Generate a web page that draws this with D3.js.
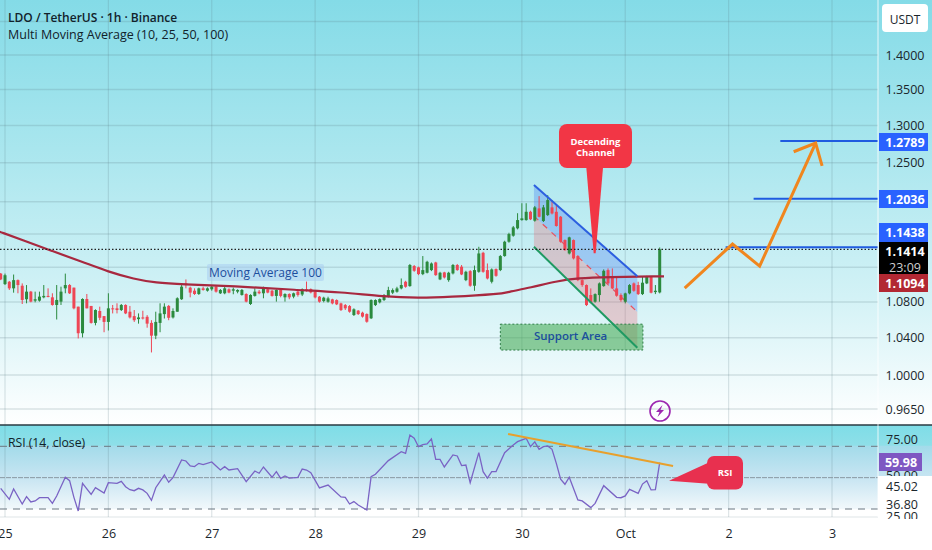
<!DOCTYPE html>
<html>
<head>
<meta charset="utf-8">
<title>LDO / TetherUS</title>
<script src="https://cdn.jsdelivr.net/npm/d3@7"></script>
<style>
    html, body { margin: 0; padding: 0; background: #fff; }
    svg { display: block; }
    text { font-family: "Open Sans", sans-serif; }
    .axis path, .axis line { display: none; }
</style>
</head>
<body>
<div id="chart"></div>
<script>
// Candles, one row per hour. Candle 0 is the midnight that starts the 25th
const firstCandle = -1;
const candleOpen = [
    1.1126, 1.1004, 1.1031, 1.0955, 1.1050, 1.0985, 1.0830, 1.0917, 1.0814, 1.0814, 1.0852,
    1.0868, 1.0852, 1.0765, 1.0803, 1.0955, 1.0993, 1.0963, 1.0746, 1.0450, 1.0833, 1.0754,
    1.0564, 1.0697, 1.0640, 1.0575, 1.0727, 1.0727, 1.0708, 1.0765, 1.0689, 1.0640, 1.0606,
    1.0625, 1.0632, 1.0564, 1.0423, 1.0564, 1.0662, 1.0754, 1.0625, 1.0689, 1.0830, 1.1012,
    1.0963, 1.0928, 1.0890, 1.0955, 1.0928, 1.0944, 1.0974, 1.0898, 1.0898, 1.0944, 1.0928,
    1.0917, 1.0879, 1.0890, 1.0776, 1.0868, 1.0917, 1.0898, 1.0944, 1.0928, 1.0868, 1.0936,
    1.0852, 1.0890, 1.0860, 1.0917, 1.0884, 1.0943, 1.0946, 1.0916, 1.0859, 1.0810, 1.0802,
    1.0829, 1.0821, 1.0783, 1.0764, 1.0753, 1.0652, 1.0701, 1.0678, 1.0663, 1.0615, 1.0764,
    1.0795, 1.0821, 1.0867, 1.0905, 1.0916, 1.0954, 1.1031, 1.0981, 1.1215, 1.1199, 1.1120,
    1.1136, 1.1167, 1.1257, 1.1058, 1.1140, 1.1050, 1.1128, 1.1227, 1.1207, 1.1050, 1.1155,
    1.0985, 1.1147, 1.1372, 1.1167, 1.1031, 1.1179, 1.1167, 1.1333, 1.1505, 1.1578, 1.1668,
    1.1770, 1.1770, 1.1873, 1.1762, 1.1915, 1.1758, 1.1832, 1.1928, 1.1873, 1.1811, 1.1525,
    1.1364, 1.1525, 1.1333, 1.1050, 1.0993, 1.0878, 1.0802, 1.0878, 1.0981, 1.1167, 1.1096,
    1.0954, 1.0878, 1.0802, 1.0897, 1.1012, 1.0993, 1.0889, 1.1012, 1.1089, 1.0912, 1.0908
];
const candleClose = [
    1.1058, 1.1107, 1.0955, 1.1050, 1.0993, 1.0822, 1.0917, 1.0803, 1.0830, 1.0860, 1.0868,
    1.0856, 1.0765, 1.0822, 1.0917, 1.0993, 1.0898, 1.0727, 1.0450, 1.0833, 1.0727, 1.0564,
    1.0708, 1.0621, 1.0575, 1.0727, 1.0716, 1.0708, 1.0765, 1.0670, 1.0625, 1.0594, 1.0625,
    1.0613, 1.0556, 1.0423, 1.0575, 1.0670, 1.0746, 1.0621, 1.0697, 1.0841, 1.0974, 1.0993,
    1.0906, 1.0890, 1.0955, 1.0936, 1.0955, 1.0974, 1.0917, 1.0936, 1.0955, 1.0906, 1.0944,
    1.0936, 1.0936, 1.0803, 1.0879, 1.0917, 1.0898, 1.0955, 1.0906, 1.0868, 1.0936, 1.0868,
    1.0890, 1.0852, 1.0898, 1.0879, 1.0946, 1.0928, 1.0908, 1.0851, 1.0802, 1.0848, 1.0840,
    1.0783, 1.0772, 1.0708, 1.0727, 1.0689, 1.0716, 1.0663, 1.0634, 1.0577, 1.0821, 1.0821,
    1.0832, 1.0877, 1.0935, 1.0935, 1.0954, 1.0993, 1.0973, 1.1227, 1.1159, 1.1120, 1.1167,
    1.1265, 1.1245, 1.1108, 1.1136, 1.1081, 1.1136, 1.1227, 1.1167, 1.1116, 1.1147, 1.0985,
    1.1167, 1.1364, 1.1147, 1.1069, 1.1175, 1.1100, 1.1333, 1.1505, 1.1598, 1.1680, 1.1770,
    1.1791, 1.1873, 1.1779, 1.1928, 1.1811, 1.1928, 1.2020, 1.1852, 1.1697, 1.1505, 1.1404,
    1.1558, 1.1305, 1.1050, 1.0993, 1.0764, 1.0791, 1.0889, 1.1012, 1.1159, 1.1012, 1.0954,
    1.0870, 1.0821, 1.0897, 1.0993, 1.0927, 1.0889, 1.1020, 1.1089, 1.0905, 1.0927, 1.1414
];
const candleHigh = [
    1.1133, 1.1126, 1.1040, 1.1115, 1.1058, 1.1012, 1.0993, 1.0925, 1.0917, 1.0917, 1.0993,
    1.0955, 1.0898, 1.0993, 1.0974, 1.1126, 1.1004, 1.0963, 1.0746, 1.0841, 1.0890, 1.0754,
    1.0716, 1.0746, 1.0640, 1.0898, 1.0765, 1.0784, 1.0776, 1.0773, 1.0754, 1.0708, 1.0670,
    1.0700, 1.0651, 1.0594, 1.0689, 1.0784, 1.0784, 1.0765, 1.0727, 1.0852, 1.0993, 1.1058,
    1.0974, 1.0955, 1.0963, 1.0974, 1.0966, 1.0993, 1.0985, 1.0947, 1.0993, 1.0955, 1.0963,
    1.0944, 1.0947, 1.0898, 1.0887, 1.0955, 1.0936, 1.0974, 1.0955, 1.0936, 1.0944, 1.0944,
    1.0898, 1.0898, 1.0906, 1.0936, 1.0954, 1.1033, 1.0954, 1.0927, 1.0867, 1.0859, 1.0859,
    1.0836, 1.0829, 1.0791, 1.0776, 1.0764, 1.0727, 1.0708, 1.0689, 1.0671, 1.0829, 1.0829,
    1.0840, 1.0889, 1.0973, 1.0954, 1.0973, 1.1069, 1.1042, 1.1239, 1.1227, 1.1207, 1.1333,
    1.1277, 1.1257, 1.1265, 1.1147, 1.1147, 1.1147, 1.1239, 1.1239, 1.1227, 1.1159, 1.1167,
    1.1220, 1.1444, 1.1384, 1.1245, 1.1187, 1.1187, 1.1345, 1.1517, 1.1614, 1.1697, 1.1855,
    1.1980, 1.1980, 1.1886, 1.1945, 1.2070, 1.1958, 1.2083, 1.2020, 1.1958, 1.1820, 1.1533,
    1.1566, 1.1533, 1.1344, 1.1058, 1.1000, 1.0954, 1.0897, 1.1023, 1.1175, 1.1187, 1.1187,
    1.1089, 1.0897, 1.0905, 1.1004, 1.1023, 1.1031, 1.1089, 1.1100, 1.1096, 1.0993, 1.1436
];
const candleLow = [
    1.1050, 1.0993, 1.0936, 1.0905, 1.0898, 1.0776, 1.0784, 1.0795, 1.0795, 1.0803, 1.0841,
    1.0852, 1.0757, 1.0602, 1.0765, 1.0898, 1.0890, 1.0716, 1.0393, 1.0404, 1.0727, 1.0556,
    1.0537, 1.0594, 1.0461, 1.0480, 1.0670, 1.0670, 1.0697, 1.0662, 1.0613, 1.0575, 1.0556,
    1.0602, 1.0511, 1.0241, 1.0385, 1.0461, 1.0613, 1.0594, 1.0613, 1.0689, 1.0822, 1.0955,
    1.0852, 1.0879, 1.0879, 1.0928, 1.0917, 1.0928, 1.0906, 1.0890, 1.0887, 1.0898, 1.0887,
    1.0898, 1.0871, 1.0795, 1.0765, 1.0860, 1.0887, 1.0841, 1.0898, 1.0860, 1.0803, 1.0852,
    1.0803, 1.0830, 1.0841, 1.0860, 1.0866, 1.0917, 1.0897, 1.0840, 1.0791, 1.0795, 1.0791,
    1.0772, 1.0764, 1.0697, 1.0708, 1.0678, 1.0641, 1.0652, 1.0623, 1.0566, 1.0607, 1.0753,
    1.0783, 1.0810, 1.0851, 1.0889, 1.0905, 1.0943, 1.0962, 1.0973, 1.1147, 1.1108, 1.1108,
    1.1128, 1.1155, 1.1100, 1.1050, 1.1069, 1.1031, 1.1116, 1.1159, 1.1108, 1.1038, 1.0973,
    1.0927, 1.1136, 1.1136, 1.1058, 1.1012, 1.1089, 1.1155, 1.1325, 1.1493, 1.1566, 1.1655,
    1.1762, 1.1762, 1.1770, 1.1750, 1.1803, 1.1746, 1.1820, 1.1840, 1.1689, 1.1493, 1.1396,
    1.1352, 1.1293, 1.1038, 1.0973, 1.0753, 1.0783, 1.0791, 1.0802, 1.0973, 1.1004, 1.0946,
    1.0859, 1.0802, 1.0783, 1.0886, 1.0916, 1.0878, 1.0878, 1.1004, 1.0897, 1.0889, 1.0897
];

// Moving Average 100 vertices
const maIndex = [-2, -1, 4, 11, 18, 24, 30, 35, 41, 53, 68, 78, 88, 96, 103, 115, 117, 122, 128, 133, 140, 152, 153];
const maValue = [1.1640, 1.1623, 1.1525, 1.1392, 1.1264, 1.1147, 1.1062, 1.1019, 1.1001, 1.0981, 1.0935, 1.0912,
    1.0858, 1.0844, 1.0855, 1.0889, 1.0916, 1.0962, 1.1038, 1.1073, 1.1085, 1.1094, 1.1094];

// RSI vertices
const rsiIndex = [-1, 1, 2, 4, 5, 6, 7, 8, 10, 11, 12, 14, 15, 16, 17, 18, 20, 21, 23, 24, 26, 27, 28, 29, 30, 31, 32, 33, 34, 35,
    37, 38, 39, 41, 42, 43, 44, 45, 46, 48, 49, 50, 51, 52, 54, 56, 58, 59, 60, 62, 63, 64, 65, 66, 68, 69, 70, 71, 73, 75,
    78, 79, 80, 81, 82, 84, 85, 86, 89, 92, 93, 94, 95, 96, 97, 98, 99, 100, 101, 102, 104, 105, 106, 107, 108, 110, 111, 112, 113, 114,
    116, 118, 119, 121, 122, 123, 124, 125, 126, 127, 128, 129, 130, 131, 133, 134, 136, 137, 139, 142, 143, 144, 145, 147, 148, 149, 150, 151, 152];
const rsiValue = [41.5, 32.7, 41.0, 29.0, 34.8, 30.6, 31.4, 34.0, 34.0, 29.5, 35.4, 50.3, 47.6, 34.3, 23.4, 45.5, 36.7, 42.0, 37.8, 46.0,
    45.5, 47.1, 42.8, 40.4, 39.6, 41.5, 40.2, 37.5, 31.9, 42.0, 52.1, 46.3, 50.0, 64.1, 63.3, 59.3, 58.8, 61.4, 60.4, 62.5,
    59.3, 56.1, 58.8, 56.1, 57.2, 46.8, 55.3, 53.5, 58.5, 50.3, 54.8, 49.5, 51.3, 49.7, 50.3, 56.9, 56.1, 54.0, 41.8, 44.1,
    34.6, 34.3, 29.0, 30.9, 28.2, 24.2, 50.8, 52.7, 63.6, 70.7, 69.4, 84.0, 81.4, 74.7, 76.3, 76.9, 80.9, 64.6, 64.6, 58.5,
    68.1, 67.3, 59.6, 60.1, 46.0, 69.9, 54.8, 49.7, 54.8, 54.8, 69.9, 76.1, 78.7, 81.4, 74.7, 78.5, 72.6, 74.7, 75.3, 72.6,
    61.4, 48.7, 44.7, 50.3, 32.2, 31.4, 26.1, 29.5, 43.6, 34.3, 34.0, 35.4, 40.7, 37.5, 44.9, 47.6, 40.2, 40.4, 62.0];

// Axis ticks and labels
const dayTicks = [0, 24, 48, 72, 96, 120, 144, 168, 192];
const dayLabels = ['25', '26', '27', '28', '29', '30', 'Oct', '2', '3'];
const priceGrid = [1.45, 1.4, 1.35, 1.3, 1.25, 1.2, 1.16, 1.12, 1.08, 1.04, 1.0, 0.965];
const priceLabels = [1.4, 1.35, 1.3, 1.25, 1.08, 1.04, 1.0, 0.965];
const rsiGrid = [75, 50, 25];
const rsiUpperLabels = [75, 50];
const rsiLowerLabels = [45.02, 36.8, 25];

// Drawings on the chart, in candle index and price
const channelIndex = [122.8, 146.8];
const channelUpper = [1.2211, 1.1096];
const channelMiddle = [1.1820, 1.0687];
const channelLower = [1.1444, 1.0291];
const supportIndex = [115, 148.1];
const supportPrice = [1.0550, 1.0267];
const targetPrice = [1.1438, 1.2036, 1.2789];
const targetStart = [167.3, 173.8, 180];
const arrowIndex = [157.8, 168.9, 175.2, 188.2];
const arrowPrice = [1.0958, 1.1477, 1.1214, 1.2762];
const arrowHeadIndex = [183.1, 188.2, 189.7];
const arrowHeadPrice = [1.2646, 1.2762, 1.2461];
const rsiTrendIndex = [116.8, 155.1];
const rsiTrendValue = [84.8, 59.3];
const lastPrice = 1.1414;

// Layout
const width = 932, height = 550;
const axisX = 878;
const mainBottom = 425, rsiBottom = 517;

const x = d3.scaleLinear().domain([0, 192]).range([5, 832]);
const y = d3.scaleLog().domain([0.965, 1.4]).range([409, 55]);
const yRsi = d3.scaleLinear().domain([25, 75]).range([509, 446.3]);
// the RSI scale labels sit off their levels in the picture
const yRsiLabel = d3.scaleLinear().domain([25, 36.8, 45.02, 50, 75]).range([516, 504, 486, 475, 439]);

const svg = d3.select('#chart').append('svg')
    .attr('width', width)
    .attr('height', height);

const defs = svg.append('defs');

function addGradient(id, stops) {
    const grad = defs.append('linearGradient')
        .attr('id', id)
        .attr('x1', 0).attr('y1', 0).attr('x2', 0).attr('y2', 1);
    stops.forEach(s => grad.append('stop').attr('offset', s[0]).attr('stop-color', s[1]));
}

addGradient('main-bg', [[0, '#84dbe7'], [0.35, '#a9e6ee'], [0.7, '#d3f2f6'], [1, '#ffffff']]);
addGradient('rsi-bg', [[0, '#7edde7'], [0.22, '#8edfe8'], [0.23, '#a3dbea'], [0.58, '#c8e5f2'], [0.91, '#f1f8fb'], [0.92, '#ffffff'], [1, '#ffffff']]);

defs.append('clipPath').attr('id', 'rsi-axis-clip')
    .append('rect').attr('x', axisX).attr('y', 426).attr('width', 54).attr('height', 93);

// Backgrounds
svg.append('rect').attr('width', width).attr('height', height).attr('fill', '#fff');
svg.append('rect').attr('width', width).attr('height', mainBottom).attr('fill', 'url(#main-bg)');
svg.append('rect').attr('y', mainBottom).attr('width', width).attr('height', rsiBottom - mainBottom).attr('fill', 'url(#rsi-bg)');

// Grid
const grid = svg.append('g').attr('fill', 'none');
grid.selectAll('.h').data(priceGrid).join('line')
    .attr('x1', 0).attr('x2', axisX)
    .attr('y1', d => y(d)).attr('y2', d => y(d))
    .attr('stroke', 'rgba(90,120,130,0.2)')
    .attr('stroke-width', 1.5);
grid.selectAll('.v').data(dayTicks).join('line')
    .attr('x1', d => x(d)).attr('x2', d => x(d))
    .attr('y1', 0).attr('y2', rsiBottom)
    .attr('stroke', 'rgba(90,120,130,0.2)')
    .attr('stroke-width', 1.2);
grid.append('line')
    .attr('x1', 0).attr('x2', axisX)
    .attr('y1', rsiBottom).attr('y2', rsiBottom)
    .attr('stroke', 'rgba(90,120,130,0.2)');

// Channel fill goes under the candles
const channelPoly = (a, b) => [
    [x(channelIndex[0]), y(a[0])], [x(channelIndex[1]), y(a[1])],
    [x(channelIndex[1]), y(b[1])], [x(channelIndex[0]), y(b[0])]
].join(' ');
svg.append('polygon').attr('points', channelPoly(channelUpper, channelMiddle)).attr('fill', 'rgba(66,120,240,0.32)');
svg.append('polygon').attr('points', channelPoly(channelMiddle, channelLower)).attr('fill', 'rgba(235,90,100,0.27)');
svg.append('line')
    .attr('x1', x(channelIndex[0])).attr('y1', y(channelMiddle[0]))
    .attr('x2', x(channelIndex[1])).attr('y2', y(channelMiddle[1]))
    .attr('stroke', '#e8505f').attr('stroke-width', 1.2).attr('stroke-dasharray', '6,6');

// Support area
const support = svg.append('g');
support.append('rect')
    .attr('x', x(supportIndex[0])).attr('y', y(supportPrice[0]))
    .attr('width', x(supportIndex[1]) - x(supportIndex[0]))
    .attr('height', y(supportPrice[1]) - y(supportPrice[0]))
    .attr('fill', 'rgba(60,165,75,0.55)')
    .attr('stroke', '#2d7d46').attr('stroke-width', 1).attr('stroke-dasharray', '2,2');
support.append('text')
    .attr('x', (x(supportIndex[0]) + x(supportIndex[1])) / 2 - 1)
    .attr('y', (y(supportPrice[0]) + y(supportPrice[1])) / 2 + 3)
    .attr('text-anchor', 'middle')
    .attr('font-size', 11.5).attr('font-weight', 600)
    .attr('fill', '#1c4f9c')
    .text('Support Area');

// Candles
const candles = candleOpen.map((o, i) => ({
    i: firstCandle + i, o, c: candleClose[i], h: candleHigh[i], l: candleLow[i]
}));
const candleColor = d => (d.c >= d.o ? '#2b8a3e' : '#ee4655');
const candleG = svg.append('g');
candleG.selectAll('line').data(candles).join('line')
    .attr('x1', d => x(d.i)).attr('x2', d => x(d.i))
    .attr('y1', d => y(d.h)).attr('y2', d => y(d.l))
    .attr('stroke', candleColor).attr('stroke-width', 1);
candleG.selectAll('rect').data(candles).join('rect')
    .attr('x', d => x(d.i) - 1.5)
    .attr('width', 3)
    .attr('y', d => y(Math.max(d.o, d.c)))
    .attr('height', d => Math.max(1, Math.abs(y(d.o) - y(d.c))))
    .attr('fill', candleColor);

// Moving average
const maLine = d3.line().x(d => x(d[0])).y(d => y(d[1])).curve(d3.curveBasis);
svg.append('path')
    .attr('d', maLine(maIndex.map((d, i) => [d, maValue[i]])))
    .attr('fill', 'none').attr('stroke', '#a8283f').attr('stroke-width', 2.2);

// MA label
svg.append('rect')
    .attr('x', 207).attr('y', 264).attr('width', 117).attr('height', 17).attr('rx', 2)
    .attr('fill', 'rgba(170,205,240,0.55)');
svg.append('text')
    .attr('x', 265.5).attr('y', 276.5)
    .attr('text-anchor', 'middle')
    .attr('font-size', 12)
    .attr('fill', '#1d4e9e')
    .text('Moving Average 100');

// Channel borders
svg.append('line')
    .attr('x1', x(channelIndex[0])).attr('y1', y(channelUpper[0]))
    .attr('x2', x(channelIndex[1])).attr('y2', y(channelUpper[1]))
    .attr('stroke', '#2c5fe0').attr('stroke-width', 2);
svg.append('line')
    .attr('x1', x(channelIndex[0])).attr('y1', y(channelLower[0]))
    .attr('x2', x(channelIndex[1])).attr('y2', y(channelLower[1]))
    .attr('stroke', '#1f9a62').attr('stroke-width', 2);

// Last price dotted line
svg.append('line')
    .attr('x1', 0).attr('x2', axisX)
    .attr('y1', y(lastPrice)).attr('y2', y(lastPrice))
    .attr('stroke', '#222').attr('stroke-width', 1.2).attr('stroke-dasharray', '1.5,2');

// Target levels
svg.append('g').selectAll('line').data(targetPrice).join('line')
    .attr('x1', (d, i) => x(targetStart[i])).attr('x2', axisX)
    .attr('y1', d => y(d)).attr('y2', d => y(d))
    .attr('stroke', '#1f5be0').attr('stroke-width', 2);

// Projected path
const drawLine = d3.line().x(d => x(d[0])).y(d => y(d[1]));
svg.append('path')
    .attr('d', drawLine(arrowIndex.map((d, i) => [d, arrowPrice[i]])))
    .attr('fill', 'none').attr('stroke', '#f0861e').attr('stroke-width', 3);
svg.append('path')
    .attr('d', drawLine(arrowHeadIndex.map((d, i) => [d, arrowHeadPrice[i]])))
    .attr('fill', 'none').attr('stroke', '#f0861e').attr('stroke-width', 3);

// Callout for the channel
const tipX = x(136.9), tipY = y(1.1368);
svg.append('path')
    .attr('d', `M${tipX - 9},160 L${tipX - 1},${tipY} L${tipX + 1},${tipY} L${tipX + 9},160 Z`)
    .attr('fill', '#f23645');
svg.append('rect')
    .attr('x', 559).attr('y', 124).attr('width', 73).attr('height', 44).attr('rx', 8)
    .attr('fill', '#f23645');
svg.append('text').attr('x', 595.5).attr('y', 145).attr('text-anchor', 'middle')
    .attr('font-size', 9.5).attr('font-weight', 700).attr('fill', '#fff').text('Decending');
svg.append('text').attr('x', 595.5).attr('y', 155.5).attr('text-anchor', 'middle')
    .attr('font-size', 9.5).attr('font-weight', 700).attr('fill', '#fff').text('Channel');

// Lightning badge
const badge = svg.append('g').attr('transform', 'translate(660,411)');
badge.append('circle').attr('r', 10).attr('fill', 'none').attr('stroke', '#9c27b0').attr('stroke-width', 1.6);
badge.append('path').attr('d', 'M2.5,-6 L-4,1 L-0.5,1 L-2.5,6 L4,-1 L0.5,-1 Z').attr('fill', '#9c27b0');

// Pane separator
svg.append('line')
    .attr('x1', 0).attr('x2', width)
    .attr('y1', mainBottom).attr('y2', mainBottom)
    .attr('stroke', '#2a3a42').attr('stroke-width', 1.5);

// RSI levels
svg.append('g').selectAll('line').data(rsiGrid).join('line')
    .attr('x1', 0).attr('x2', axisX)
    .attr('y1', d => yRsi(d)).attr('y2', d => yRsi(d))
    .attr('stroke', d => (d === 50 ? '#8a98a2' : '#6b7780')).attr('stroke-width', 1)
    .attr('stroke-dasharray', d => (d === 50 ? '5,1' : '7,6'));

const rsiLine = d3.line().x(d => x(d[0])).y(d => yRsi(d[1]));
svg.append('path')
    .attr('d', rsiLine(rsiIndex.map((d, i) => [d, rsiValue[i]])))
    .attr('fill', 'none').attr('stroke', '#7a63c4').attr('stroke-width', 1.3);

svg.append('line')
    .attr('x1', x(rsiTrendIndex[0])).attr('y1', yRsi(rsiTrendValue[0]))
    .attr('x2', x(rsiTrendIndex[1])).attr('y2', yRsi(rsiTrendValue[1]))
    .attr('stroke', '#e8a02c').attr('stroke-width', 2);

// RSI callout
svg.append('path').attr('d', 'M669,480.7 L712,461 L712,484 Z').attr('fill', '#e8304f');
svg.append('rect')
    .attr('x', 707).attr('y', 456).attr('width', 36).attr('height', 33.5).attr('rx', 7)
    .attr('fill', '#e8304f');
svg.append('text').attr('x', 725).attr('y', 476).attr('text-anchor', 'middle')
    .attr('font-size', 9.5).attr('font-weight', 700).attr('fill', '#fff').text('RSI');

// Legends
const legend = svg.append('g').attr('fill', '#11222b');
legend.append('text').attr('x', 8).attr('y', 22).attr('font-size', 12).attr('font-weight', 600).text('LDO / TetherUS · 1h · Binance');
legend.append('text').attr('x', 8).attr('y', 39).attr('font-size', 12.5).text('Multi Moving Average (10, 25, 50, 100)');
legend.append('text').attr('x', 8).attr('y', 447).attr('font-size', 12.2).text('RSI (14, close)');

// Right scale
svg.append('line')
    .attr('x1', axisX).attr('x2', axisX).attr('y1', 0).attr('y2', 517)
    .attr('stroke', 'rgba(255,255,255,0.8)').attr('stroke-width', 1);

const styleTicks = g => g.selectAll('text')
    .attr('text-anchor', 'middle')
    .attr('font-family', 'Roboto')
    .attr('font-size', 12.5)
    .attr('fill', '#1b262c');

const priceAxis = d3.axisRight(y)
    .tickValues(priceLabels)
    .tickSize(0)
    .tickPadding(0)
    .tickFormat(d3.format('.4f'));
svg.append('g').attr('class', 'axis price-axis')
    .attr('transform', 'translate(905,0)')
    .call(priceAxis)
    .call(styleTicks);

const rsiAxis = values => d3.axisRight(yRsiLabel)
    .tickValues(values)
    .tickSize(0)
    .tickPadding(0)
    .tickFormat(d3.format('.2f'));

// 50.00 is mostly covered by the white patch, the lower labels sit on top of it
const rsiClip = svg.append('g').attr('clip-path', 'url(#rsi-axis-clip)');
rsiClip.append('g').attr('class', 'axis rsi-axis')
    .attr('transform', 'translate(902,0)')
    .call(rsiAxis(rsiUpperLabels))
    .call(styleTicks);
rsiClip.append('rect').attr('x', axisX).attr('y', 476).attr('width', 54).attr('height', 44).attr('fill', '#fff');
rsiClip.append('g').attr('class', 'axis rsi-axis')
    .attr('transform', 'translate(902,0)')
    .call(rsiAxis(rsiLowerLabels))
    .call(styleTicks);
svg.append('rect').attr('x', axisX).attr('y', 517).attr('width', 54).attr('height', 3).attr('fill', 'none');

// Price flags on the scale
function flag(top, h, color, lines, w = 49, cx = 905) {
    svg.append('rect')
        .attr('x', 879).attr('y', top).attr('width', w).attr('height', h).attr('fill', color);
    lines.forEach((l, i) => {
        svg.append('text')
            .attr('x', cx).attr('y', top + 13.5 + i * 16)
            .attr('text-anchor', 'middle')
            .attr('font-family', 'Roboto')
            .attr('font-size', 12.5).attr('font-weight', i === 0 ? 700 : 400)
            .attr('fill', i === 0 ? '#fff' : '#cfcfcf')
            .text(l);
    });
}
flag(133, 18, '#2962ff', ['1.2789']);
flag(190, 18, '#2962ff', ['1.2036']);
flag(223, 19, '#2962ff', ['1.1438']);
flag(242, 32, '#000000', ['1.1414', '23:09']);
flag(274, 18, '#b22833', ['1.1094']);
flag(453, 18, '#7e57c2', ['59.98'], 43, 901);

// USDT button
svg.append('rect')
    .attr('x', 882).attr('y', 4).attr('width', 46).attr('height', 28).attr('rx', 4)
    .attr('fill', '#fff');
svg.append('text').attr('x', 905).attr('y', 23.5).attr('text-anchor', 'middle')
    .attr('font-family', 'Roboto').attr('font-size', 12).attr('fill', '#1b262c').text('USDT');

// Time axis
const timeAxis = d3.axisBottom(x)
    .tickValues(dayTicks)
    .tickSize(0)
    .tickPadding(0)
    .tickFormat((d, i) => dayLabels[i]);
svg.append('g').attr('class', 'axis time-axis')
    .attr('transform', 'translate(0,529)')
    .call(timeAxis)
    .call(g => g.selectAll('text')
        .attr('font-family', 'Roboto')
        .attr('font-size', 12.5)
        .attr('fill', '#1b262c'));
</script>
</body>
</html>
